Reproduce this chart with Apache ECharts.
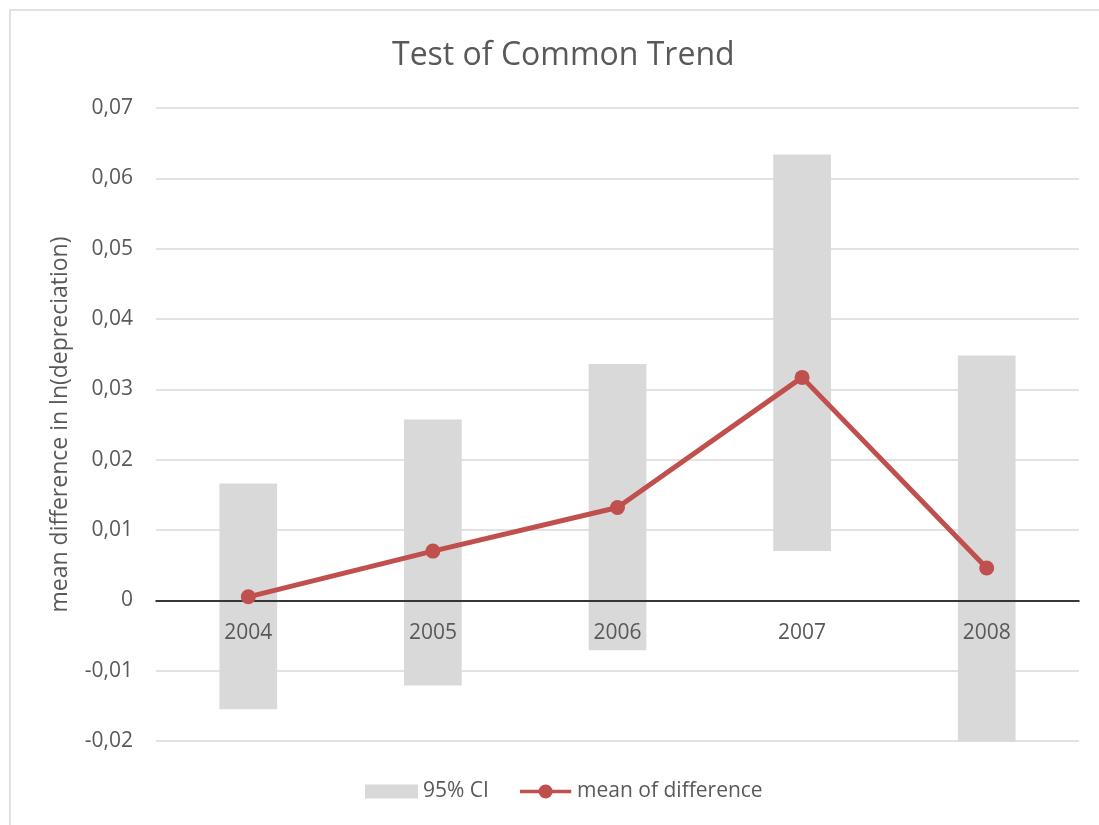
<!DOCTYPE html>
<html>
<head>
<meta charset="utf-8">
<script src="https://cdn.jsdelivr.net/npm/echarts@6/dist/echarts.min.js"></script>
<style>
html,body{margin:0;padding:0;background:#fff;}
#chart{width:1099px;height:825px;}
</style>
</head>
<body>
<div id="chart"></div>
<script>
const years = ['2004', '2005', '2006', '2007', '2008'];
const ciLow = [-0.0155, -0.0121, -0.0071, 0.0070, -0.0201];
const ciHigh = [0.0166, 0.0257, 0.0336, 0.0634, 0.0348];
const meanDiff = [0.0005, 0.0070, 0.0132, 0.0317, 0.0046];
const yTicks = { min: -0.02, max: 0.07, interval: 0.01 };

const FONT = '"Open Sans", "Noto Sans", sans-serif';
const TXT = '#595959';
const RED = '#c0504d';

const chart = echarts.init(document.getElementById('chart'), null, { renderer: 'canvas' });

const ciData = years.map((y, i) => [i, ciLow[i], ciHigh[i]]);

const GRID_TOP = 108, GRID_BOTTOM = 84, PLOT_H = 825 - GRID_TOP - GRID_BOTTOM;
// distance from bottom of plot to zero line, derived from axis range
const zeroOffset = PLOT_H * (0 - yTicks.min) / (yTicks.max - yTicks.min);

chart.setOption({
  animation: false,
  backgroundColor: '#fff',
  graphic: [{
    type: 'rect', silent: true, z: -10,
    shape: { x: 10, y: 10, width: 1200, height: 1000 },
    style: { fill: '#fff', stroke: '#d9d9d9', lineWidth: 1.5 }
  }],
  title: {
    text: 'Test of Common Trend',
    left: 387, top: 35,
    textStyle: { fontFamily: FONT, fontSize: 32, fontWeight: 'normal', color: TXT }
  },
  grid: { left: 156, right: 20, top: GRID_TOP, bottom: GRID_BOTTOM, containLabel: false },
  legend: {
    left: 365, top: 781, padding: 0,
    itemWidth: 53, itemHeight: 14, itemGap: 31,
    textStyle: { fontFamily: FONT, fontSize: 21, color: TXT },
    data: [
      { name: '95% CI', icon: 'rect', itemStyle: { color: '#d9d9d9' } },
      { name: 'mean of difference',
        icon: 'path://M0,5.5 H21 V9.5 H0 Z M34,5.5 H55 V9.5 H34 Z M20,7.5 A7.5,7.5 0 1,1 35,7.5 A7.5,7.5 0 1,1 20,7.5 Z',
        itemStyle: { color: RED } }
    ]
  },
  xAxis: {
    type: 'category',
    data: years,
    z: 2,
    offset: -zeroOffset,
    axisLine: { onZero: false, lineStyle: { color: '#000', width: 1.5 } },
    axisTick: { show: false },
    axisLabel: { margin: 22, fontFamily: FONT, fontSize: 21, color: TXT },
    splitLine: { show: false }
  },
  yAxis: {
    type: 'value',
    min: yTicks.min, max: yTicks.max, interval: yTicks.interval,
    name: 'mean difference in ln(depreciation)',
    nameLocation: 'middle', nameGap: 84,
    nameTextStyle: { fontFamily: FONT, fontSize: 23, color: TXT },
    axisLine: { show: false },
    axisTick: { show: false },
    axisLabel: {
      margin: 23, fontFamily: FONT, fontSize: 21, color: TXT,
      formatter: v => Math.abs(v) < 1e-9 ? '0' : v.toFixed(2).replace('.', ',')
    },
    splitLine: { lineStyle: { color: '#d9d9d9', width: 1.5 } }
  },
  series: [
    {
      name: '95% CI',
      type: 'custom',
      z: 1,
      itemStyle: { color: '#d9d9d9' },
      encode: { x: 0, y: [1, 2] },
      data: ciData,
      renderItem: function (params, api) {
        const x = api.value(0);
        const lo = api.coord([x, api.value(1)]);
        const hi = api.coord([x, api.value(2)]);
        const w = api.size([1, 0])[0] * 0.3125;
        return {
          type: 'rect',
          shape: { x: lo[0] - w / 2, y: hi[1], width: w, height: lo[1] - hi[1] },
          style: { fill: '#d9d9d9' }
        };
      }
    },
    {
      name: 'mean of difference',
      type: 'line',
      z: 3,
      data: meanDiff,
      symbol: 'circle',
      symbolSize: 15,
      color: RED,
      lineStyle: { color: RED, width: 5 },
      itemStyle: { color: RED }
    }
  ]
});
</script>
</body>
</html>
